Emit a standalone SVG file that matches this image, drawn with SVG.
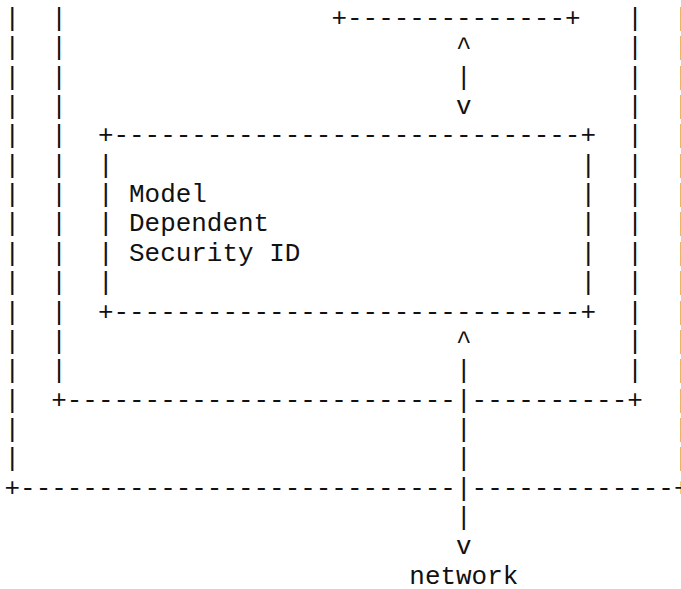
<svg xmlns="http://www.w3.org/2000/svg" width="681" height="589" viewBox="0 0 681 589">
<style>
text { font-family: "Liberation Mono", "Courier New", monospace; font-size: 25.94px; fill: #111; white-space: pre; }
</style>
<rect width="681" height="589" fill="#fff"/>
<g id="outer-box">
  <text x="4.5 4.5 4.5 4.5 4.5 4.5 4.5 4.5 4.5 4.5 4.5 4.5 4.5 4.5 4.5 4.5" y="26 55.35 84.7 114.05 143.4 172.75 202.1 231.45 260.8 290.15 319.5 348.85 378.2 407.55 436.9 466.25">||||||||||||||||</text>
  <text x="674.01 674.01 674.01 674.01 674.01 674.01 674.01 674.01 674.01 674.01 674.01 674.01 674.01 674.01 674.01 674.01" y="26 55.35 84.7 114.05 143.4 172.75 202.1 231.45 260.8 290.15 319.5 348.85 378.2 407.55 436.9 466.25">||||||||||||||||</text>
  <text x="4.5" y="495.6">+----------------------------</text>
  <text x="471.6" y="495.6">-------------+</text>
</g>
<g id="middle-box">
  <text x="51.21 51.21 51.21 51.21 51.21 51.21 51.21 51.21 51.21 51.21 51.21 51.21 51.21" y="26 55.35 84.7 114.05 143.4 172.75 202.1 231.45 260.8 290.15 319.5 348.85 378.2">|||||||||||||</text>
  <text x="627.3 627.3 627.3 627.3 627.3 627.3 627.3 627.3 627.3 627.3 627.3 627.3 627.3" y="26 55.35 84.7 114.05 143.4 172.75 202.1 231.45 260.8 290.15 319.5 348.85 378.2">|||||||||||||</text>
  <text x="51.21" y="407.55">+-------------------------</text>
  <text x="471.6" y="407.55">----------+</text>
</g>
<g id="top-box">
  <text x="331.47" y="26">+--------------+</text>
</g>
<g id="security-id-box">
  <text x="97.92" y="143.4">+------------------------------+</text>
  <text x="97.92 97.92 97.92 97.92 97.92" y="172.75 202.1 231.45 260.8 290.15">|||||</text>
  <text x="580.59 580.59 580.59 580.59 580.59" y="172.75 202.1 231.45 260.8 290.15">|||||</text>
  <text x="97.92" y="319.5">+------------------------------+</text>
  <text x="129.06" y="202.1">Model</text>
  <text x="129.06" y="231.45">Dependent</text>
  <text x="129.06" y="260.8">Security ID</text>
</g>
<g id="connectors">
  <text x="456.03" y="55.35">^</text>
  <text x="456.03" y="84.7">|</text>
  <text x="456.03" y="114.05">v</text>
  <text x="456.03" y="348.85">^</text>
  <text x="456.03 456.03 456.03 456.03 456.03 456.03" y="378.2 407.55 436.9 466.25 495.6 524.95">||||||</text>
  <text x="456.03" y="554.3">v</text>
</g>
<g id="network">
  <text x="409.32" y="583.65">network</text>
</g>
</svg>
